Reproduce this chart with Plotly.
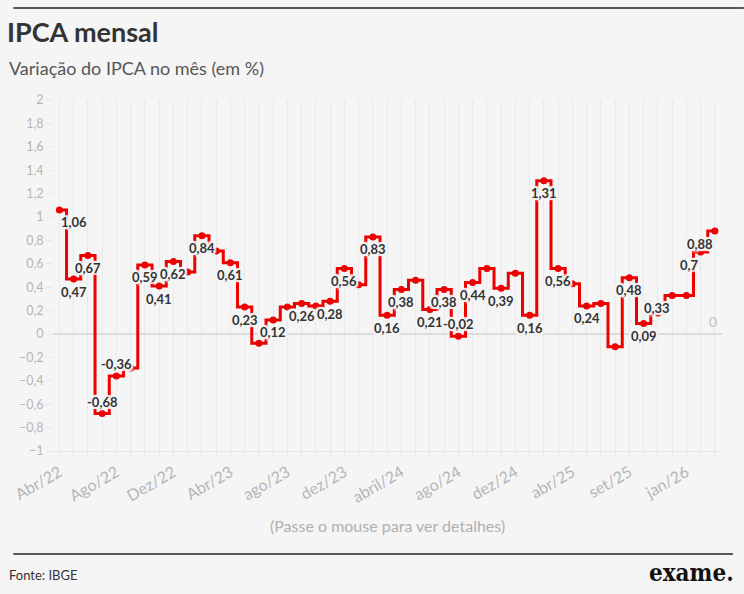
import plotly.graph_objects as go

# meses da serie (maio/25 nao aparece no grafico original)
months = [
    "Abr/22", "Mai/22", "Jun/22", "Jul/22", "Ago/22", "Set/22", "Out/22", "Nov/22", "Dez/22",
    "Jan/23", "Fev/23", "Mar/23", "Abr/23", "Mai/23", "Jun/23", "Jul/23", "Ago/23", "Set/23",
    "Out/23", "Nov/23", "Dez/23",
    "Jan/24", "Fev/24", "Mar/24", "Abr/24", "Mai/24", "Jun/24", "Jul/24", "Ago/24", "Set/24",
    "Out/24", "Nov/24", "Dez/24",
    "Jan/25", "Fev/25", "Mar/25", "Abr/25", "Jun/25", "Jul/25", "Ago/25", "Set/25", "Out/25",
    "Nov/25", "Dez/25",
    "Jan/26", "Fev/26", "Mar/26",
]
ipca = [
    1.06, 0.47, 0.67, -0.68, -0.36, -0.29, 0.59, 0.41, 0.62,
    0.53, 0.84, 0.71, 0.61, 0.23, -0.08, 0.12, 0.23, 0.26, 0.24, 0.28, 0.56,
    0.42, 0.83, 0.16, 0.38, 0.46, 0.21, 0.38, -0.02, 0.44, 0.56, 0.39, 0.52,
    0.16, 1.31, 0.56, 0.43, 0.24, 0.26, -0.11, 0.48, 0.09, 0.18, 0.33,
    0.33, 0.70, 0.88,
]
# pontos que recebem rotulo
labelled = [0, 1, 2, 3, 4, 6, 7, 8, 10, 12, 13, 15, 17, 19, 20, 22, 23, 24, 26, 27,
            28, 29, 31, 33, 34, 35, 37, 40, 41, 43, 45, 46]
tick_months = ["Abr/22", "Ago/22", "Dez/22", "Abr/23", "Ago/23", "Dez/23",
               "Abr/24", "Ago/24", "Dez/24", "Abr/25", "Set/25", "Jan/26"]
tick_text = ["Abr/22", "Ago/22", "Dez/22", "Abr/23", "ago/23", "dez/23",
             "abril/24", "ago/24", "dez/24", "abr/25", "set/25", "jan/26"]

FONT = "Lato"
RED = "#ec0000"
BG = "#f5f5f5"

x = list(range(len(months)))

fig = go.Figure()
fig.add_trace(go.Scatter(
    x=x, y=ipca,
    mode="lines+markers",
    line=dict(color=RED, width=3, shape="hvh"),
    marker=dict(color=RED, size=7),
    customdata=months,
    hovertemplate="%{customdata}: %{y}<extra></extra>",
))

# rotulos: abaixo se positivo, acima se negativo, alguns empurrados para o lado
halo = ", ".join(f"{dx}px {dy}px 1px {BG}" for dx in (-2, 0, 2) for dy in (-2, 0, 2))
side = {0: "left", 43: "right", 45: "right", 46: "right"}
for i in labelled:
    v = ipca[i]
    fig.add_annotation(
        x=i, y=v, text=f"{v:g}".replace(".", ","),
        showarrow=False,
        xanchor=side.get(i, "center"), yanchor="middle",
        yshift=12 if v < 0 else -12.5,
        font=dict(family=FONT, size=13, color="#333333", weight="bold", shadow=halo),
    )

fig.update_layout(
    width=744, height=594,
    paper_bgcolor=BG, plot_bgcolor=BG,
    margin=dict(l=48, r=22, t=100, b=143),
    showlegend=False,
    separators=",.",
    font=dict(family=FONT, color="#aaaaaa"),
    title=dict(
        text="<b>IPCA mensal</b>",
        x=7 / 744, xanchor="left",
        y=1 - 33 / 594, yanchor="middle",
        font=dict(family=FONT, size=27, color="#333333"),
    ),
)
fig.update_xaxes(
    range=[-0.45, len(months) - 0.5],
    tickvals=[months.index(m) for m in tick_months],
    ticktext=tick_text,
    tickangle=-30,
    tickfont=dict(size=16, color="#b5b5b5"),
    showgrid=True, gridcolor="#e8e8e8", gridwidth=1,
    ticks="outside", ticklen=5, tickcolor="#e8e8e8",
    minor=dict(dtick=1, tick0=0, showgrid=True, gridcolor="#e8e8e8",
               ticks="outside", ticklen=5, tickcolor="#e8e8e8"),
    showline=True, linecolor="#e8e8e8", linewidth=1,
    zeroline=False,
    fixedrange=True,
)
fig.update_yaxes(
    range=[-1, 2],
    dtick=0.2,
    tickfont=dict(size=12.5, color="#b5b5b5"),
    showgrid=False,
    ticks="outside", ticklen=6, tickcolor="#e8e8e8",
    zeroline=True, zerolinecolor="#dcdcdc", zerolinewidth=2,
    fixedrange=True,
)

# linhas de cabecalho e rodape
fig.add_shape(type="line", xref="paper", yref="paper",
              x0=-40 / 674, x1=696 / 674, y0=443 / 351, y1=443 / 351,
              line=dict(color="#222222", width=1.5))
fig.add_shape(type="line", xref="paper", yref="paper",
              x0=-40 / 674, x1=685 / 674, y0=-103 / 351, y1=-103 / 351,
              line=dict(color="#222222", width=1.5))

fig.add_annotation(text="Variação do IPCA no mês (em %)", xref="paper", yref="paper",
                   x=-40 / 674, y=383 / 351, xanchor="left", yanchor="middle", xshift=-6,
                   showarrow=False, font=dict(family=FONT, size=18, color="#555555"))
fig.add_annotation(text="(Passe o mouse para ver detalhes)", xref="paper", yref="paper",
                   x=(385 - 48) / 674, y=-74 / 351, xanchor="center", yanchor="middle",
                   showarrow=False, font=dict(family=FONT, size=16, color="#b0b0b0"))
fig.add_annotation(text="Fonte: IBGE", xref="paper", yref="paper",
                   x=-40 / 674, y=-124 / 351, xanchor="left", yanchor="middle", xshift=-6,
                   showarrow=False, font=dict(family=FONT, size=13, color="#333333"))
fig.add_annotation(text="<b>exame.</b>", xref="paper", yref="paper",
                   x=685 / 674, y=-121 / 351, xanchor="right", yanchor="middle", xshift=3,
                   showarrow=False,
                   font=dict(family="DejaVu Serif Condensed", size=24, color="#111111"))
fig.add_annotation(text="0", xref="paper", yref="y",
                   x=665 / 674, y=0, xanchor="center", yanchor="bottom", yshift=2,
                   showarrow=False, font=dict(family=FONT, size=14, color="#c0c0c0"))

fig.write_html("out.html", config={"displayModeBar": False},
               post_script=f"document.body.style.margin='0';"
                           f"document.body.style.background='{BG}';")
